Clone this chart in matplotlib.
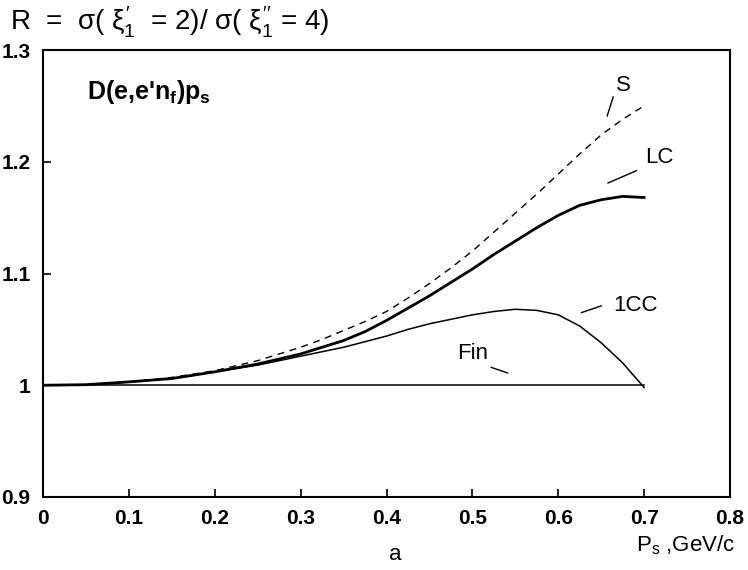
import matplotlib
matplotlib.use("Agg")
import matplotlib.pyplot as plt

plt.rcParams['font.family'] = ['Liberation Sans', 'DejaVu Sans']
plt.rcParams['mathtext.fontset'] = 'custom'
plt.rcParams['mathtext.rm'] = 'Liberation Sans'
plt.rcParams['mathtext.it'] = 'Liberation Sans'
plt.rcParams['mathtext.bf'] = 'Liberation Sans:bold'

# data
p_s = [0.0, 0.05, 0.1, 0.15, 0.2, 0.25, 0.3, 0.325, 0.35, 0.375, 0.4, 0.425, 0.45,
       0.475, 0.5, 0.525, 0.55, 0.575, 0.6, 0.625, 0.65, 0.675, 0.7]
r_S = [1.0, 1.0005, 1.003, 1.007, 1.013, 1.022, 1.034, 1.041, 1.049, 1.057, 1.066, 1.078,
       1.091, 1.105, 1.120, 1.137, 1.154, 1.171, 1.189, 1.207, 1.224, 1.238, 1.250]
r_LC = [1.0, 1.0005, 1.003, 1.006, 1.012, 1.019, 1.028, 1.034, 1.040, 1.048, 1.058, 1.069,
        1.080, 1.092, 1.104, 1.117, 1.129, 1.141, 1.152, 1.161, 1.166, 1.169, 1.168]
r_1CC = [1.0, 1.0005, 1.003, 1.006, 1.012, 1.018, 1.026, 1.030, 1.034, 1.039, 1.044, 1.050,
         1.055, 1.059, 1.063, 1.066, 1.068, 1.067, 1.063, 1.053, 1.038, 1.020, 0.998]
r_Fin = [1.0] * len(p_s)

x_ticks = [0, 0.1, 0.2, 0.3, 0.4, 0.5, 0.6, 0.7, 0.8]
x_tick_labels = ["0", "0.1", "0.2", "0.3", "0.4", "0.5", "0.6", "0.7", "0.8"]
y_ticks = [0.9, 1.0, 1.1, 1.2, 1.3]
y_tick_labels = ["0.9", "1", "1.1", "1.2", "1.3"]

fig = plt.figure(figsize=(7.48, 5.70), dpi=100)
W, H = 748, 570
ax = fig.add_axes([43 / W, 1 - 497 / H, (730 - 43) / W, (497 - 50) / H])

ax.plot(p_s, r_S, color='black', lw=1.0, ls=(0, (5, 4)))
ax.plot(p_s, r_LC, color='black', lw=2.0)
ax.plot(p_s, r_1CC, color='black', lw=1.1)
ax.plot(p_s, r_Fin, color='black', lw=1.1)

ax.set_xlim(0, 0.8)
ax.set_ylim(0.9, 1.3)
ax.set_xticks(x_ticks)
ax.set_xticklabels(x_tick_labels)
ax.set_yticks(y_ticks)
ax.set_yticklabels(y_tick_labels)
ax.tick_params(direction='in', length=6, width=1.2, labelsize=15, pad=9)
for lab in ax.get_xticklabels() + ax.get_yticklabels():
    lab.set_fontweight('bold')
for sp in ax.spines.values():
    sp.set_linewidth(1.5)

# curve labels and leaders
ax.text(0.676, 1.268, "S", fontsize=16, ha='center', va='center')
ax.plot([0.664, 0.657], [1.258, 1.241], color='black', lw=1.0)
ax.text(0.718, 1.2036, "LC", fontsize=16, ha='center', va='center')
ax.plot([0.691, 0.658], [1.192, 1.181], color='black', lw=1.0)
ax.text(0.690, 1.071, "1CC", fontsize=16, ha='center', va='center')
ax.plot([0.650, 0.627], [1.071, 1.065], color='black', lw=1.0)
ax.text(0.5006, 1.028, "Fin", fontsize=16, ha='center', va='center')
ax.plot([0.522, 0.541], [1.016, 1.011], color='black', lw=1.0)

ax.text(0.051, 1.262, r"D(e,e'n$_{\mathbf{f}}$)p$_{\mathbf{s}}$", fontsize=18,
        fontweight='bold', ha='left', va='center')

fig.text(10 / W, 1 - 22 / H,
         r"R  =  $\sigma$( $\xi_1^{\prime}$  = 2)/ $\sigma$( $\xi_1^{\prime\prime}$ = 4)",
         fontsize=20, ha='left', va='center')
fig.text(735 / W, 1 - 545 / H, r"P$_{\rm s}$ ,GeV/c", fontsize=16, ha='right', va='center')
fig.text(395 / W, 1 - 555 / H, "a", fontsize=16, ha='center', va='center')

fig.savefig("out.png", dpi=100)
